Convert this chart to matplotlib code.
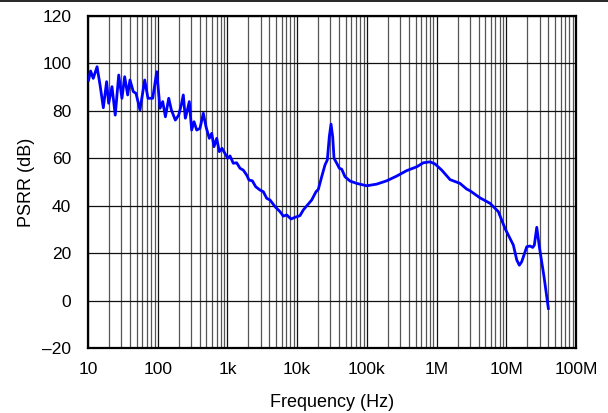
import matplotlib.pyplot as plt
from matplotlib.ticker import FixedLocator, FixedFormatter, LogLocator, NullFormatter
from matplotlib.lines import Line2D

plt.rcParams['font.family'] = ['Liberation Sans', 'DejaVu Sans']

# PSRR curve
freq = [10.2, 10.9, 11.9, 13.5, 14.9, 16.6, 18.5, 19.8, 22.1, 24.6, 27.6, 30.7,
        33.6, 37.1, 40.0, 44.7, 48.8, 55.7, 65.1, 72.5, 84.8, 96.8, 108, 118,
        129, 144, 157, 179, 200, 218, 233, 249, 260, 284, 307, 332, 363, 404,
        451, 493, 550, 595, 642, 702, 765, 836, 923, 1009, 1089, 1214, 1358,
        1515, 1690, 1891, 2041, 2276, 2546, 2933, 3273, 3661, 4085, 4818, 5681,
        6336, 7087, 8166, 9317, 10990, 12250, 13700, 16170, 18650, 20130, 22490,
        25100, 27100, 28930, 30620, 32360, 33810, 36970, 40290, 43580, 48640,
        57330, 71580, 99550, 138400, 192600, 267900, 373200, 519000, 645700,
        805400, 950400, 1186000, 1560000, 2169000, 2706000, 3020000, 4200000,
        5847000, 7690000, 9590000, 12620000, 14130000, 15390000, 16660000,
        19650000, 21920000, 23950000, 25250000, 27350000, 29790000, 34780000,
        40090000]
psrr = [93, 96.8, 93.7, 98.6, 90.9, 81.3, 92.3, 83.2, 90.2, 78.2, 95.1, 85.3,
        94.4, 86.7, 93, 88.1, 87.4, 80.4, 93, 85.3, 85.3, 96.5, 81.1, 83.9,
        77.5, 85.3, 80.4, 76.1, 78.2, 82.5, 86.7, 76.9, 79, 83.9, 71.9, 75.4,
        71.9, 72.6, 79, 73.3, 68.4, 70.5, 64.9, 68.4, 62.8, 64.2, 62, 60, 61,
        57.9, 58.1, 55.8, 55, 52.9, 50.8, 50.5, 48, 46.6, 45.9, 43.1, 42.4,
        39.6, 37.5, 35.6, 36.1, 34.4, 35.1, 35.8, 38.2, 39.9, 42.4, 45.9, 46.9,
        52.2, 57.2, 59.3, 69.1, 74.4, 69.1, 60, 57.9, 55.8, 55.4, 52.2, 50.4,
        49.4, 48.4, 49.1, 50.5, 52.5, 54.8, 56.4, 58.1, 58.5, 57.6, 55, 51,
        49.4, 47, 46.3, 43.3, 41, 37.5, 30.4, 23.4, 17.1, 14.9, 16.4, 22.7, 23,
        22.4, 23.4, 30.9, 22.7, 10, -3.3]

xticks = [10, 100, 1e3, 1e4, 1e5, 1e6, 1e7, 1e8]
xlabels = ['10', '100', '1k', '10k', '100k', '1M', '10M', '100M']
yticks = [-20, 0, 20, 40, 60, 80, 100, 120]

fig = plt.figure(figsize=(6.08, 4.13), dpi=100)
ax = fig.add_axes([0.1447, 0.1574, 0.8027, 0.8039])

ax.semilogx(freq, psrr, color='#0000ff', lw=2.0, zorder=3)

ax.set_xlim(10, 1e8)
ax.set_ylim(-20, 120)
ax.xaxis.set_major_locator(FixedLocator(xticks))
ax.xaxis.set_major_formatter(FixedFormatter(xlabels))
ax.xaxis.set_minor_locator(LogLocator(base=10, subs=range(2, 10), numticks=20))
ax.xaxis.set_minor_formatter(NullFormatter())
ax.set_yticks(yticks)
ax.set_yticklabels(['\u201320' if v < 0 else str(v) for v in yticks])

ax.grid(True, which='major', color='#111111', lw=0.9)
ax.grid(True, which='minor', axis='x', color='#555555', lw=0.9)
ax.tick_params(which='both', length=0, labelsize=12.5)
ax.tick_params(axis='y', pad=12)
ax.tick_params(axis='x', pad=10)

for s in ax.spines.values():
    s.set_linewidth(1.6)

ax.set_xlabel('Frequency (Hz)', fontsize=13, labelpad=12)
ax.set_ylabel('PSRR (dB)', fontsize=13, labelpad=5)

fig.add_artist(Line2D([0, 1], [0.998, 0.998], color='black', lw=1.2,
                      transform=fig.transFigure))

fig.savefig('out.png', dpi=100)
